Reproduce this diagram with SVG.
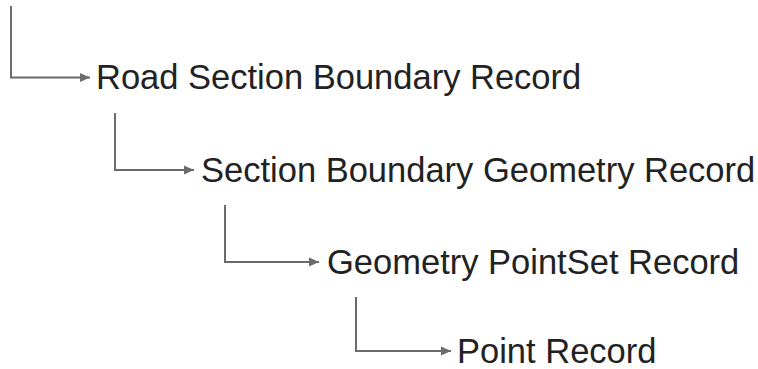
<svg xmlns="http://www.w3.org/2000/svg" width="758" height="369" viewBox="0 0 758 369">
<style>
.lbl{font-family:"Liberation Sans",Arial,sans-serif;font-size:34.5px;fill:#222}
.conn{fill:none;stroke:#6b6b6b;stroke-width:2}
</style>
<defs>
<marker id="ah" viewBox="0 0 10 10" refX="10" refY="5" markerWidth="10" markerHeight="10" markerUnits="userSpaceOnUse" orient="auto">
<path d="M0,0.5 L10,5 L0,9.5 Z" fill="#6b6b6b"/>
</marker>
</defs>
<rect width="758" height="369" fill="#fff"/>
<g id="connectors">
<path class="conn" d="M11,6 V77.5 H90" marker-end="url(#ah)"/>
<path class="conn" d="M115,113 V170 H194" marker-end="url(#ah)"/>
<path class="conn" d="M225,205 V262 H319" marker-end="url(#ah)"/>
<path class="conn" d="M356,297 V351 H451" marker-end="url(#ah)"/>
</g>
<g id="road-section-boundary-record"><text class="lbl" x="96" y="89">Road Section Boundary Record</text></g>
<g id="section-boundary-geometry-record"><text class="lbl" x="201" y="181.5">Section Boundary Geometry Record</text></g>
<g id="geometry-pointset-record"><text class="lbl" x="327" y="273.5">Geometry PointSet Record</text></g>
<g id="point-record"><text class="lbl" x="457" y="362.5">Point Record</text></g>
</svg>
